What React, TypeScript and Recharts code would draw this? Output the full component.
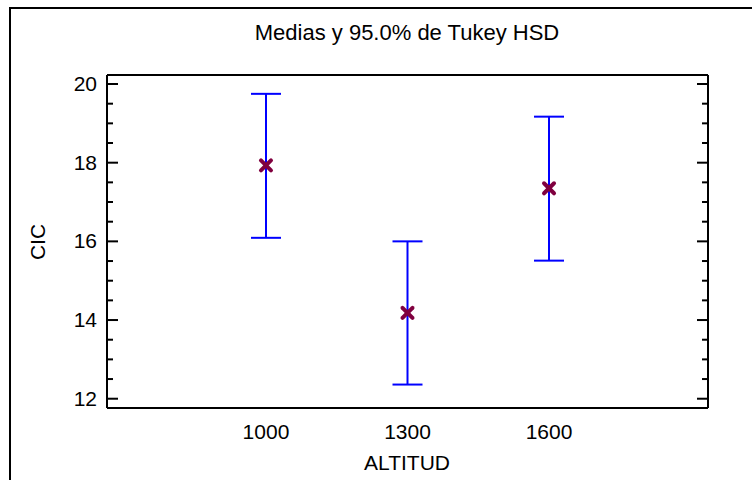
import React from 'react';
import { ScatterChart, Scatter, XAxis, YAxis, ErrorBar, Label } from 'recharts';

const altitudes = [1000, 1300, 1600];
const means = [17.93, 14.18, 17.35];
const lowers = [16.09, 12.36, 15.51];
const uppers = [19.75, 16.0, 19.17];

const xTicks = [1000, 1300, 1600];
const yTicks = [12, 12.5, 13, 13.5, 14, 14.5, 15, 15.5, 16, 16.5, 17, 17.5, 18, 18.5, 19, 19.5, 20];

const FONT = 'Liberation Sans, Arial, sans-serif';

const data = altitudes.map((a, i) => ({
  alt: a,
  mean: means[i],
  err: [means[i] - lowers[i], uppers[i] - means[i]],
}));

// inward ticks, long on the even values, short on the halves
const LeftTick = (props: any) => {
  const { x, y, payload } = props;
  const major = payload.value % 2 === 0;
  return (
    <g>
      <line x1={x} y1={y} x2={x + (major ? 11 : 6)} y2={y} stroke="#000" strokeWidth={2} />
      {major && (
        <text x={x - 10} y={y} dy={7} textAnchor="end" fontSize={21} fontFamily={FONT} fill="#000">
          {payload.value}
        </text>
      )}
    </g>
  );
};

const RightTick = (props: any) => {
  const { x, y, payload } = props;
  const major = payload.value % 2 === 0;
  return <line x1={x} y1={y} x2={x - (major ? 11 : 6)} y2={y} stroke="#000" strokeWidth={2} />;
};

const BottomTick = (props: any) => {
  const { x, y, payload } = props;
  return (
    <text x={x} y={y} dy={31} textAnchor="middle" fontSize={21} fontFamily={FONT} fill="#000">
      {payload.value}
    </text>
  );
};

const Cross = (props: any) => {
  const { cx, cy } = props;
  if (cx == null || cy == null) return null;
  const r = 5;
  return (
    <g stroke="#80003f" strokeWidth={4} strokeLinecap="round">
      <line x1={cx - r} y1={cy - r} x2={cx + r} y2={cy + r} />
      <line x1={cx - r} y1={cy + r} x2={cx + r} y2={cy - r} />
    </g>
  );
};

const Empty = () => <g />;

export default function App() {
  return (
    <div style={{ position: 'absolute', left: 0, top: 0, width: 752, height: 480, overflow: 'hidden', background: '#fff' }}>
      <div
        style={{
          position: 'absolute', left: 9, top: 7, width: 800, height: 500,
          borderTop: '2px solid #000', borderLeft: '2px solid #000',
        }}
      />
      <div style={{ position: 'absolute', left: 0, top: 0 }}>
        <ScatterChart width={752} height={480} margin={{ top: 74, right: 43, bottom: 71, left: 0 }}>
          <XAxis
            xAxisId="b"
            dataKey="alt"
            type="number"
            domain={[663, 1937]}
            ticks={xTicks}
            height={1}
            tickSize={0}
            tickMargin={0}
            tick={<BottomTick />}
            axisLine={{ stroke: '#000', strokeWidth: 2 }}
            tickLine={false}
            allowDataOverflow
          >
            <Label
              content={() => (
                <text x={407} y={470} textAnchor="middle" fontSize={21} fontFamily={FONT} fill="#000">
                  ALTITUD
                </text>
              )}
            />
          </XAxis>
          <XAxis
            xAxisId="t"
            dataKey="alt"
            orientation="top"
            type="number"
            domain={[663, 1937]}
            height={1}
            tick={false}
            tickLine={false}
            axisLine={{ stroke: '#000', strokeWidth: 2 }}
            allowDataOverflow
          >
            <Label
              content={() => (
                <text x={407} y={40} textAnchor="middle" fontSize={22} fontFamily={FONT} fill="#000">
                  Medias y 95.0% de Tukey HSD
                </text>
              )}
            />
          </XAxis>
          <YAxis
            yAxisId="l"
            type="number"
            domain={[11.764, 20.229]}
            ticks={yTicks}
            width={107}
            tickSize={0}
            tickMargin={0}
            tick={<LeftTick />}
            tickLine={false}
            axisLine={{ stroke: '#000', strokeWidth: 2 }}
            interval={0}
            allowDataOverflow
          >
            <Label
              content={() => (
                <text x={45} y={242} textAnchor="middle" fontSize={21} fontFamily={FONT} fill="#000" transform="rotate(-90 45 242)">
                  CIC
                </text>
              )}
            />
          </YAxis>
          <YAxis
            yAxisId="r"
            orientation="right"
            type="number"
            domain={[11.764, 20.229]}
            ticks={yTicks}
            width={1}
            tickSize={0}
            tickMargin={0}
            tick={<RightTick />}
            tickLine={false}
            axisLine={{ stroke: '#000', strokeWidth: 2 }}
            interval={0}
            allowDataOverflow
          />
          {/* carrier series so the right/top frame axes get their ticks */}
          <Scatter
            data={data}
            dataKey="mean"
            xAxisId="t"
            yAxisId="r"
            shape={<Empty />}
            isAnimationActive={false}
          />
          <Scatter
            data={data}
            dataKey="mean"
            xAxisId="b"
            yAxisId="l"
            shape={<Cross />}
            isAnimationActive={false}
          />
          <Scatter
            data={data}
            dataKey="mean"
            xAxisId="b"
            yAxisId="l"
            shape={<Empty />}
            isAnimationActive={false}
          >
            <ErrorBar dataKey="err" direction="y" width={15} stroke="#0000ff" strokeWidth={2} isAnimationActive={false} />
          </Scatter>
        </ScatterChart>
      </div>
    </div>
  );
}
